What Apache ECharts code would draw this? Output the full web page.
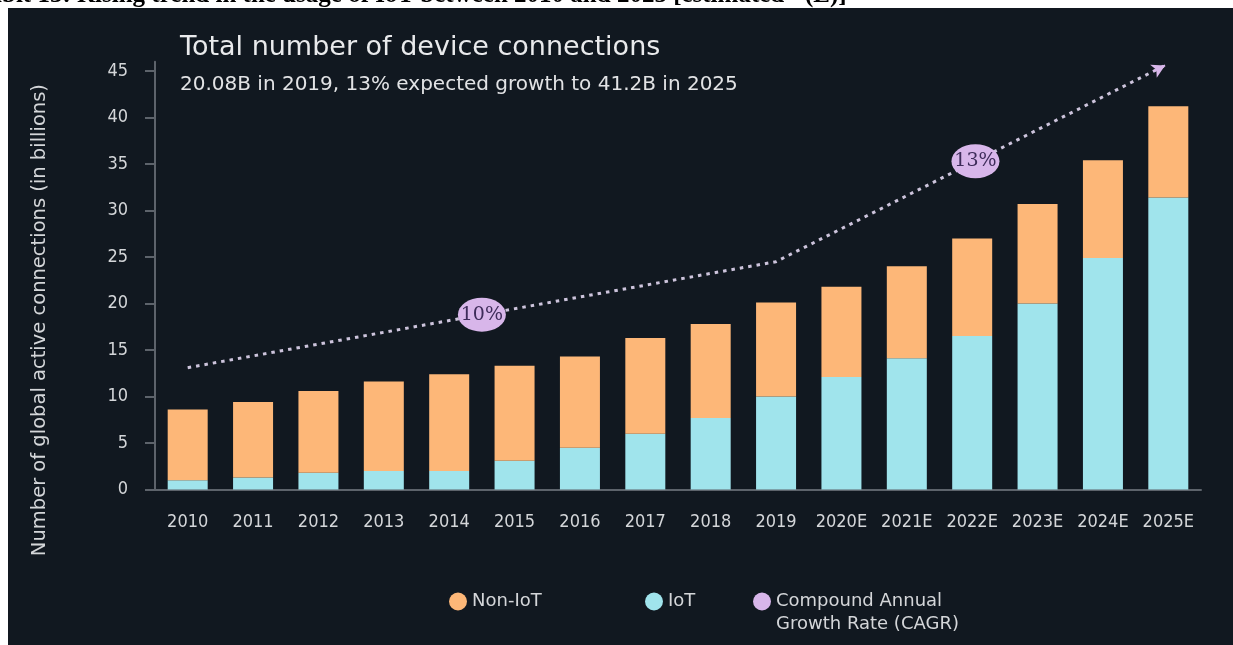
<!DOCTYPE html>
<html>
<head>
<meta charset="utf-8">
<script src="https://cdn.jsdelivr.net/npm/echarts@6/dist/echarts.min.js"></script>
<style>
  html, body { margin: 0; padding: 0; background: #ffffff; }
  #chart { width: 1233px; height: 645px; }
</style>
</head>
<body>
<div id="chart"></div>
<script>
// Years shown on the horizontal axis (E = estimated)
const years = ['2010', '2011', '2012', '2013', '2014', '2015', '2016', '2017',
               '2018', '2019', '2020E', '2021E', '2022E', '2023E', '2024E', '2025E'];

// Active connections, in billions
const iot    = [1.0, 1.3, 1.8, 2.0, 2.0, 3.1, 4.5, 6.0, 7.7, 10.0, 12.1, 14.1, 16.5, 20.0, 24.9, 31.4];
const nonIot = [7.6, 8.1, 8.8, 9.6, 10.4, 10.2, 9.8, 10.3, 10.1, 10.1, 9.7, 9.9, 10.5, 10.7, 10.5, 9.8];

// Growth trend guide (position along the year axis, level)
const trendX = [0, 9, 14.95];
const trendY = [13.1, 24.5, 45.6];

// CAGR badges placed on the trend guide
const cagrLabels = ['10%', '13%'];
const cagrX = [4.5, 12.05];
const cagrY = [18.8, 35.3];

const yTicks = [0, 5, 10, 15, 20, 25, 30, 35, 40, 45];

const FONT = '"DejaVu Sans", sans-serif';
const FONT_NUM = '"DejaVu Sans Condensed", "DejaVu Sans", sans-serif';
const TEXT = '#d4d6d9';
const AXIS = '#5d636b';
const C_NON = '#fdb778';
const C_IOT = '#a0e4ec';
const C_CAGR = '#d8b6ea';
const CAGR_NAME = 'Compound Annual\nGrowth Rate (CAGR)';

const trendData = trendX.map((x, i) => [x, trendY[i]]);
const badgeData = cagrX.map((x, i) => ({ value: [x, cagrY[i]], label: { formatter: cagrLabels[i] } }));

// Arrowhead at the end of the trend guide: a very short final piece of the last segment
const n = trendX.length - 1;
const t = 0.97;
const arrowFrom = [trendX[n - 1] + (trendX[n] - trendX[n - 1]) * t,
                   trendY[n - 1] + (trendY[n] - trendY[n - 1]) * t];
const arrowTo = [trendX[n], trendY[n]];

const chart = echarts.init(document.getElementById('chart'), null, { renderer: 'canvas' });

chart.setOption({
  backgroundColor: '#ffffff',
  animation: false,
  graphic: [
    { type: 'rect', z: -10, shape: { x: 8, y: 8, width: 1225, height: 637 }, style: { fill: '#111820' } },
    { type: 'text', z: 10, left: -48, top: -17,
      style: { text: 'Exhibit 13: Rising trend in the usage of IoT between 2010 and 2025 [estimated - (E)]',
               fill: '#000', font: 'bold 25px "Liberation Serif", "Times New Roman", serif' } }
  ],
  title: {
    left: 175, top: 29,
    text: 'Total number of device connections',
    subtext: '20.08B in 2019, 13% expected growth to 41.2B in 2025',
    itemGap: 14,
    textStyle: { color: '#e9eaec', fontSize: 27, fontWeight: 'normal', fontFamily: FONT },
    subtextStyle: { color: '#e2e3e5', fontSize: 20, fontFamily: FONT }
  },
  legend: {
    left: 444, top: 562,
    itemWidth: 18, itemHeight: 18, itemGap: 20,
    icon: 'circle',
    selectedMode: false,
    // the two-line entry gets an empty first line so its first text line sits beside the icon
    formatter: name => (name === CAGR_NAME ? '\n' + name : name),
    textStyle: { color: TEXT, fontSize: 18, fontFamily: FONT, lineHeight: 23 },
    data: [
      { name: 'Non-IoT', textStyle: { width: 153 } },
      { name: 'IoT', textStyle: { width: 65 } },
      { name: CAGR_NAME }
    ]
  },
  grid: { left: 155, right: 32, top: 61.7, bottom: 155.5 },
  xAxis: [
    {
      type: 'category', data: years,
      axisLine: { lineStyle: { color: AXIS, width: 2 } },
      axisTick: { show: false },
      axisLabel: { color: TEXT, fontSize: 18, fontFamily: FONT_NUM, margin: 24, interval: 0 }
    },
    { type: 'value', min: -0.5, max: 15.5, show: false }
  ],
  yAxis: {
    type: 'value', min: 0, max: 46,
    name: 'Number of global active connections (in billions)',
    nameLocation: 'middle', nameGap: 105, nameRotate: 90,
    nameTextStyle: { color: TEXT, fontSize: 19.5, fontFamily: FONT, padding: [0, 89, 0, 0] },
    axisLine: { show: true, onZero: false, lineStyle: { color: AXIS, width: 2 } },
    axisTick: { show: true, length: 10, customValues: yTicks, lineStyle: { color: AXIS, width: 2 } },
    splitLine: { show: false },
    axisLabel: { color: TEXT, fontSize: 18, fontFamily: FONT_NUM, margin: 27,
                 customValues: yTicks }
  },
  series: [
    { name: 'IoT', type: 'bar', stack: 'total', barWidth: 40, data: iot,
      itemStyle: { color: C_IOT } },
    { name: 'Non-IoT', type: 'bar', stack: 'total', barWidth: 40, data: nonIot,
      itemStyle: { color: C_NON } },
    { name: 'trend', type: 'line', xAxisIndex: 1, data: trendData, symbol: 'none',
      lineStyle: { color: '#cdc4dc', width: 3, type: [3.5, 5] }, z: 3,
      markLine: {
        silent: true, animation: false,
        symbol: ['none', 'arrow'], symbolSize: [11, 13],
        label: { show: false },
        lineStyle: { color: C_CAGR, type: 'solid', width: 2 },
        data: [[{ coord: arrowFrom }, { coord: arrowTo }]]
      } },
    { name: CAGR_NAME, type: 'scatter', xAxisIndex: 1, data: badgeData,
      symbol: 'circle', symbolSize: [48, 34],
      itemStyle: { color: C_CAGR, opacity: 1 }, z: 5,
      label: { show: true, position: 'inside', color: '#3e2c5a', fontSize: 19,
               fontFamily: '"DejaVu Serif", "Liberation Serif", serif' } }
  ]
});
</script>
</body>
</html>
